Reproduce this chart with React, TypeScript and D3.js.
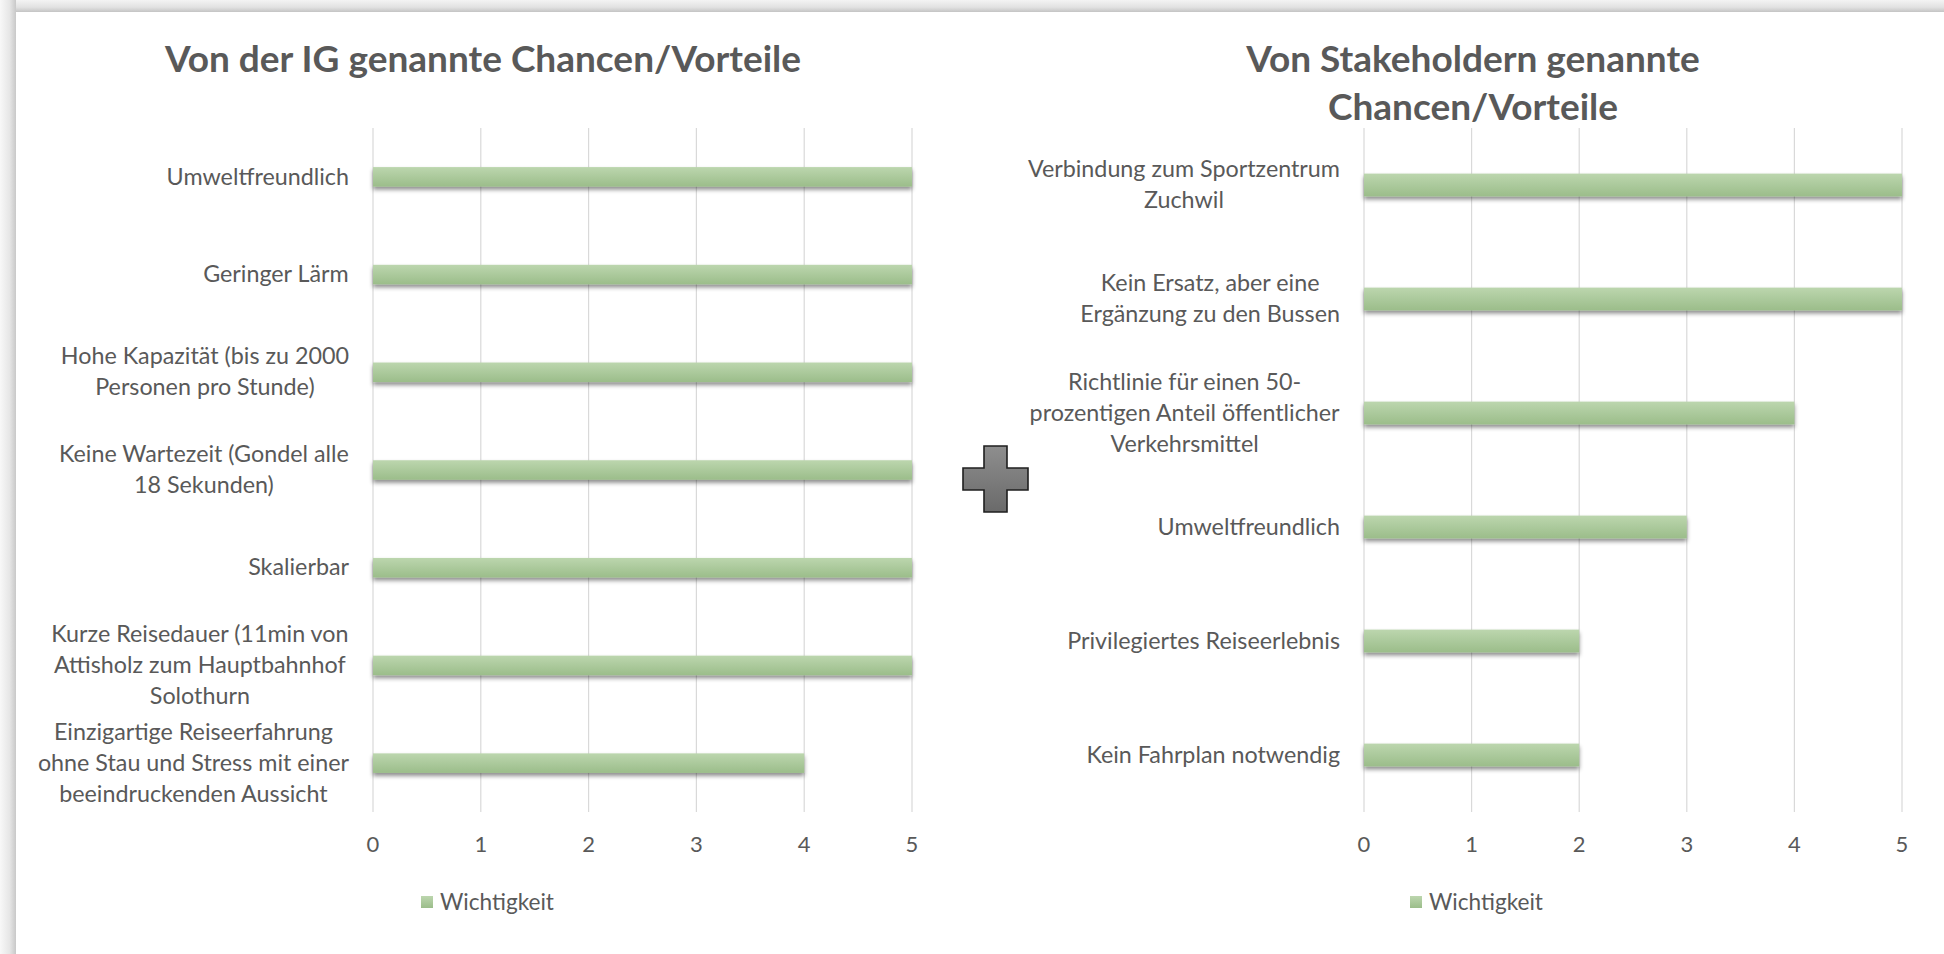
import React from "react";
import * as d3 from "d3";

const W = 1944;
const H = 954;
const FONT = "Lato, 'Open Sans', sans-serif";
const TEXT = "#595959";

const leftTitle = ["Von der IG genannte Chancen/Vorteile"];
const leftCategories = [
  ["Umweltfreundlich"],
  ["Geringer Lärm"],
  ["Hohe Kapazität (bis zu 2000", "Personen pro Stunde)"],
  ["Keine Wartezeit (Gondel alle", "18 Sekunden)"],
  ["Skalierbar"],
  ["Kurze Reisedauer (11min von", "Attisholz zum Hauptbahnhof", "Solothurn"],
  ["Einzigartige Reiseerfahrung", "ohne Stau und Stress mit einer", "beeindruckenden Aussicht"],
];
const leftValues = [5, 5, 5, 5, 5, 5, 4];

const rightTitle = ["Von Stakeholdern genannte", "Chancen/Vorteile"];
const rightCategories = [
  ["Verbindung zum Sportzentrum", "Zuchwil"],
  ["Kein Ersatz, aber eine", "Ergänzung zu den Bussen"],
  ["Richtlinie für einen 50-", "prozentigen Anteil öffentlicher", "Verkehrsmittel"],
  ["Umweltfreundlich"],
  ["Privilegiertes Reiseerlebnis"],
  ["Kein Fahrplan notwendig"],
];
const rightValues = [5, 5, 4, 3, 2, 2];

const xTicks = [0, 1, 2, 3, 4, 5];
const seriesName = "Wichtigkeit";

const LABEL_SIZE = 23.3;
const TICK_SIZE = 22;
const LEGEND_SIZE = 22.6;
const TITLE_SIZE = 37;

let ctx: CanvasRenderingContext2D | null = null;
function measure(text: string, size: number, weight = "normal") {
  if (!ctx) ctx = document.createElement("canvas").getContext("2d");
  if (!ctx) return text.length * size * 0.5;
  ctx.font = `${weight} ${size}px Lato`;
  return ctx.measureText(text).width;
}

type ChartProps = {
  title: string[];
  categories: string[][];
  values: number[];
  x0: number;
  x1: number;
  titleCx: number;
  legendX: number;
};

function Chart({ title, categories, values, x0, x1, titleCx, legendX }: ChartProps) {
  const top = 128;
  const bottom = 812;
  const x = d3.scaleLinear().domain([0, 5]).range([x0, x1]);
  const y = d3
    .scaleBand<number>()
    .domain(d3.range(categories.length))
    .range([top, bottom])
    .paddingInner(0.8)
    .paddingOuter(0.4);
  const band = (bottom - top) / categories.length;
  const lineH = 31;
  return (
    <g>
      {title.map((t, i) => (
        <text
          key={i}
          x={titleCx}
          y={72 + i * 48}
          textAnchor="middle"
          fontFamily={FONT}
          fontWeight="bold"
          fontSize={TITLE_SIZE}
          fill={TEXT}
        >
          {t}
        </text>
      ))}
      {xTicks.map((t) => (
        <line key={t} x1={x(t)} x2={x(t)} y1={top} y2={bottom} stroke="#d9d9d9" strokeWidth={1.2} />
      ))}
      {values.map((v, i) => (
        <rect
          key={i}
          x={x(0)}
          y={y(i)}
          width={x(v) - x(0)}
          height={y.bandwidth()}
          fill="url(#barGrad)"
          filter="url(#barShadow)"
        />
      ))}
      {categories.map((lines, i) => {
        const maxW = Math.max(...lines.map((l) => measure(l, LABEL_SIZE)));
        const cx = x0 - 24 - maxW / 2;
        const cy = top + band * (i + 0.5);
        const startY = cy - ((lines.length - 1) * lineH) / 2 + LABEL_SIZE * 0.33;
        return (
          <text key={i} textAnchor="middle" fontFamily={FONT} fontSize={LABEL_SIZE} fill={TEXT}>
            {lines.map((l, j) => (
              <tspan key={j} x={cx} y={startY + j * lineH}>
                {l}
              </tspan>
            ))}
          </text>
        );
      })}
      {xTicks.map((t) => (
        <text key={t} x={x(t)} y={852} textAnchor="middle" fontFamily={FONT} fontSize={TICK_SIZE} fill={TEXT}>
          {t}
        </text>
      ))}
      <rect x={legendX} y={896} width={12} height={12} fill="url(#barGrad)" />
      <text x={legendX + 19} y={910} fontFamily={FONT} fontSize={LEGEND_SIZE} fill={TEXT}>
        {seriesName}
      </text>
    </g>
  );
}

export default function App() {
  return (
    <div style={{ position: "fixed", left: 0, top: 0, width: W, height: H }}>
      <svg width={W} height={H} style={{ display: "block" }}>
        <defs>
          <linearGradient id="barGrad" x1="0" y1="0" x2="0" y2="1">
            <stop offset="0" stopColor="#bcd6ae" />
            <stop offset="1" stopColor="#9bbd8a" />
          </linearGradient>
          <linearGradient id="topBand" x1="0" y1="0" x2="0" y2="1">
            <stop offset="0" stopColor="#f4f4f4" />
            <stop offset="0.6" stopColor="#e2e2e2" />
            <stop offset="1" stopColor="#c4c4c4" />
          </linearGradient>
          <linearGradient id="leftBand" x1="0" y1="0" x2="1" y2="0">
            <stop offset="0" stopColor="#f8f8f8" />
            <stop offset="0.6" stopColor="#e6e6e6" />
            <stop offset="1" stopColor="#c8c8c8" />
          </linearGradient>
          <linearGradient id="plusGrad" x1="0" y1="0" x2="0" y2="1">
            <stop offset="0" stopColor="#8e8e8e" />
            <stop offset="1" stopColor="#6a6a6a" />
          </linearGradient>
          <filter id="barShadow" x="-5%" y="-50%" width="110%" height="220%">
            <feDropShadow dx="0" dy="3" stdDeviation="2" floodColor="#000" floodOpacity="0.45" />
          </filter>
        </defs>
        <rect x={0} y={0} width={W} height={H} fill="#ffffff" />
        <rect x={0} y={0} width={W} height={12} fill="url(#topBand)" />
        <rect x={0} y={0} width={16} height={H} fill="url(#leftBand)" />
        <Chart
          title={leftTitle}
          categories={leftCategories}
          values={leftValues}
          x0={373}
          x1={912}
          titleCx={483}
          legendX={421}
        />
        <Chart
          title={rightTitle}
          categories={rightCategories}
          values={rightValues}
          x0={1364}
          x1={1902}
          titleCx={1473}
          legendX={1410}
        />
        <path
          d="M984,446 H1007 V468 H1028 V490 H1007 V512 H984 V490 H963 V468 H984 Z"
          fill="url(#plusGrad)"
          stroke="#1f1f1f"
          strokeWidth={1.6}
        />
      </svg>
    </div>
  );
}
